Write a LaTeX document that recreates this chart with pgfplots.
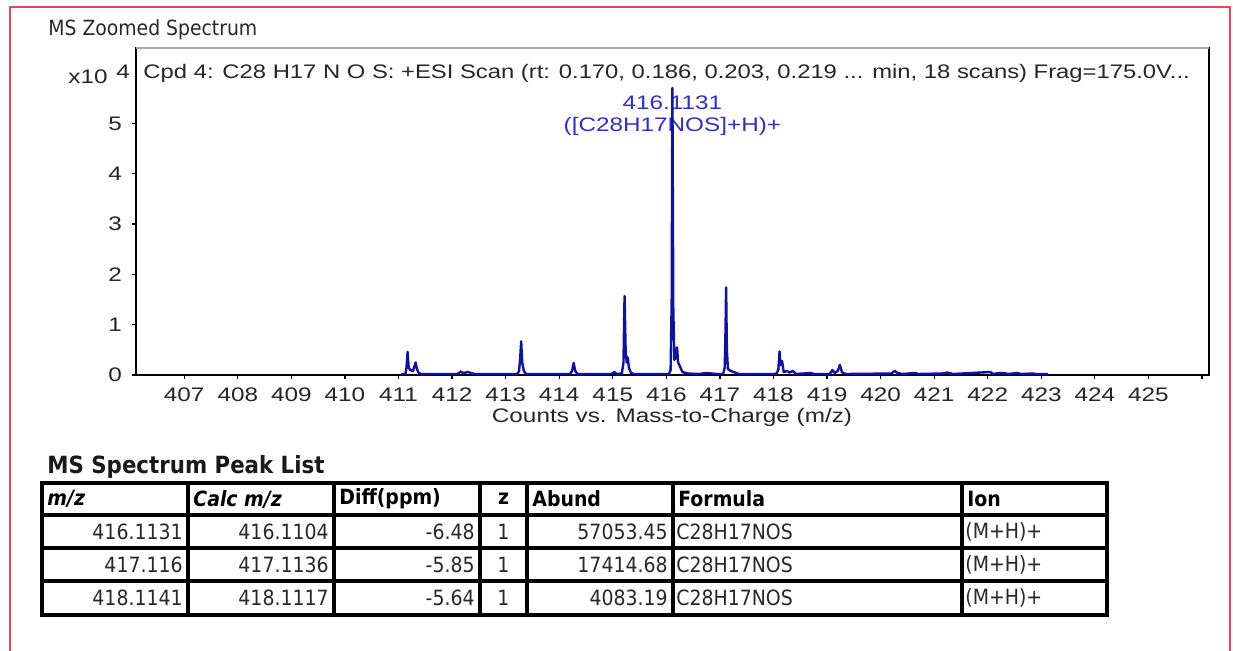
\documentclass[border=0pt]{standalone}
\usepackage{pgfplots}
\pgfplotsset{compat=1.18}
\usepackage{fontspec}
\setmainfont{Liberation Sans}
\newfontfamily\tahoma{DejaVu Sans Condensed}

\definecolor{specblue}{RGB}{16,16,168}
\definecolor{lblblue}{RGB}{48,48,205}
\definecolor{framered}{RGB}{236,70,70}
\definecolor{celltext}{RGB}{40,40,40}

% profile spectrum, m/z vs counts (x10^4)
\pgfplotstableread{
mz count
411.05 0.02
411.13 0.02
411.15 0.15
411.17 0.46
411.19 0.15
411.22 0.10
411.27 0.08
411.30 0.18
411.32 0.25
411.34 0.14
411.37 0.05
411.42 0.02
412.10 0.02
412.14 0.05
412.17 0.07
412.20 0.04
412.26 0.05
412.30 0.06
412.35 0.04
412.42 0.02
413.22 0.02
413.25 0.08
413.27 0.30
413.29 0.67
413.31 0.25
413.34 0.08
413.38 0.02
414.20 0.02
414.24 0.08
414.27 0.24
414.30 0.08
414.34 0.02
414.98 0.02
415.03 0.06
415.07 0.02
415.17 0.03
415.20 0.25
415.22 1.57
415.24 0.50
415.26 0.25
415.28 0.35
415.30 0.15
415.34 0.04
415.40 0.02
416.05 0.02
416.08 0.10
416.10 1.50
416.1131 5.705
416.13 1.30
416.15 0.30
416.18 0.35
416.20 0.55
416.22 0.25
416.25 0.18
416.30 0.06
416.40 0.03
416.60 0.02
416.75 0.04
416.95 0.02
417.06 0.02
417.09 0.15
417.105 0.90
417.116 1.741
417.13 0.50
417.15 0.12
417.20 0.08
417.28 0.05
417.35 0.02
418.05 0.02
418.09 0.10
418.1141 0.47
418.13 0.20
418.16 0.28
418.19 0.06
418.25 0.08
418.30 0.05
418.36 0.08
418.42 0.02
418.70 0.04
418.75 0.02
419.05 0.02
419.10 0.10
419.14 0.04
419.20 0.08
419.24 0.20
419.28 0.05
419.35 0.02
420.20 0.03
420.26 0.08
420.32 0.04
420.40 0.02
420.65 0.04
420.70 0.02
421.15 0.03
421.25 0.05
421.35 0.02
422.05 0.06
422.10 0.02
422.22 0.04
422.30 0.04
422.38 0.02
422.55 0.04
422.62 0.02
422.85 0.03
422.90 0.02
423.12 0.02
}\spectrum

\tikzset{plotfont/.style={font=\fontsize{9.8}{11}\selectfont, xscale=1.24}}

\begin{document}
\begin{tikzpicture}[x=0.5pt,y=-0.5pt]
\path[use as bounding box] (0,0) rectangle (1233,650);
\fill[white] (0,0) rectangle (1233,650);
% report frame
\draw[framered,line width=0.7pt] (10,660) -- (10,7) -- (1230,7) -- (1230,660);

\node[anchor=west,inner sep=0pt,font=\tahoma\fontsize{10.45}{12}\selectfont,text=celltext] at (48,30) {MS Zoomed Spectrum};

\begin{axis}[
  at={(68pt,-187.5pt)}, anchor=south west,
  width=536.5pt, height=163.5pt, scale only axis,
  xmin=406.1, xmax=426.13, ymin=0, ymax=6.5,
  xtick={407,408,409,410,411,412,413,414,415,416,417,418,419,420,421,422,423,424,425,426},
  xticklabels={407,408,409,410,411,412,413,414,415,416,417,418,419,420,421,422,423,424,425,{}},
  ytick={0,1,2,3,4,5},
  tick align=outside, major tick length=2pt,
  xtick pos=bottom, ytick pos=left,
  tick style={black, line width=0.6pt},
  axis line style={black, line width=0.75pt},
  /pgf/number format/assume math mode=true,
  tick label style={plotfont, text=black!85},
  xticklabel style={yshift=-1pt},
  yticklabel style={xshift=-0.5pt},
  clip=false,
]
\draw[gray!70, line width=0.75pt] (rel axis cs:0,1) -- (rel axis cs:1,1);
\node[text=lblblue, plotfont] at (axis cs:416.1131,5.42) {416.1131};
\node[text=lblblue, plotfont] at (axis cs:416.1131,4.95) {([C28H17NOS]+H)+};
\addplot[specblue, line width=1.2pt, line join=round] table[x=mz, y=count] {\spectrum};
\end{axis}

\node[anchor=west,inner sep=0pt,plotfont,xscale=0.98,text=black!85] at (143,73) {Cpd 4: C28 H17 N O S: +ESI Scan (rt: 0.170, 0.186, 0.203, 0.219 ... min, 18 scans) Frag=175.0V...};
\node[anchor=west,inner sep=0pt,plotfont,text=black!85] at (68,77) {x10};
\node[anchor=west,inner sep=0pt,plotfont,text=black!85] at (116,72) {4};
\node[inner sep=0pt,plotfont,text=black!85] at (672,417) {Counts vs. Mass-to-Charge (m/z)};

% peak list
\node[anchor=west,inner sep=0pt,font=\tahoma\bfseries\fontsize{11.85}{13}\selectfont,text=black!90] at (47,467) {MS Spectrum Peak List};
\begin{scope}[line width=1.6pt]
\draw (42,483) rectangle (1107,615);
\foreach \yy in {515,548,581} \draw (42,\yy) -- (1107,\yy);
\foreach \xx in {188,334,480,527,673,962} \draw (\xx,483) -- (\xx,615);
\end{scope}
\begin{scope}[every node/.style={inner sep=0pt,font=\tahoma\fontsize{10.5}{12}\selectfont,text=celltext}]
\tikzset{hd/.style={font=\tahoma\bfseries\fontsize{10.5}{12}\selectfont,text=black}}
\node[hd,anchor=west] at (47,499) {\itshape m/z};
\node[hd,anchor=west] at (193,499) {\itshape Calc m/z};
\node[hd,anchor=west] at (339,499) {Diff(ppm)};
\node[hd] at (503.5,499) {z};
\node[hd,anchor=west] at (532,499) {Abund};
\node[hd,anchor=west] at (678,499) {Formula};
\node[hd,anchor=west] at (967,499) {Ion};
\foreach \yy/\a/\b/\c/\d in {532/416.1131/416.1104/-6.48/57053.45, 565/417.116/417.1136/-5.85/17414.68, 598/418.1141/418.1117/-5.64/4083.19}{
  \node[anchor=east] at (183,\yy) {\a};
  \node[anchor=east] at (329,\yy) {\b};
  \node[anchor=east] at (475,\yy) {\c};
  \node at (503.5,\yy) {1};
  \node[anchor=east] at (668,\yy) {\d};
  \node[anchor=west] at (676,\yy) {C28H17NOS};
  \node[anchor=west] at (965,\yy) {(M+H)+};
}
\end{scope}
\end{tikzpicture}
\end{document}
